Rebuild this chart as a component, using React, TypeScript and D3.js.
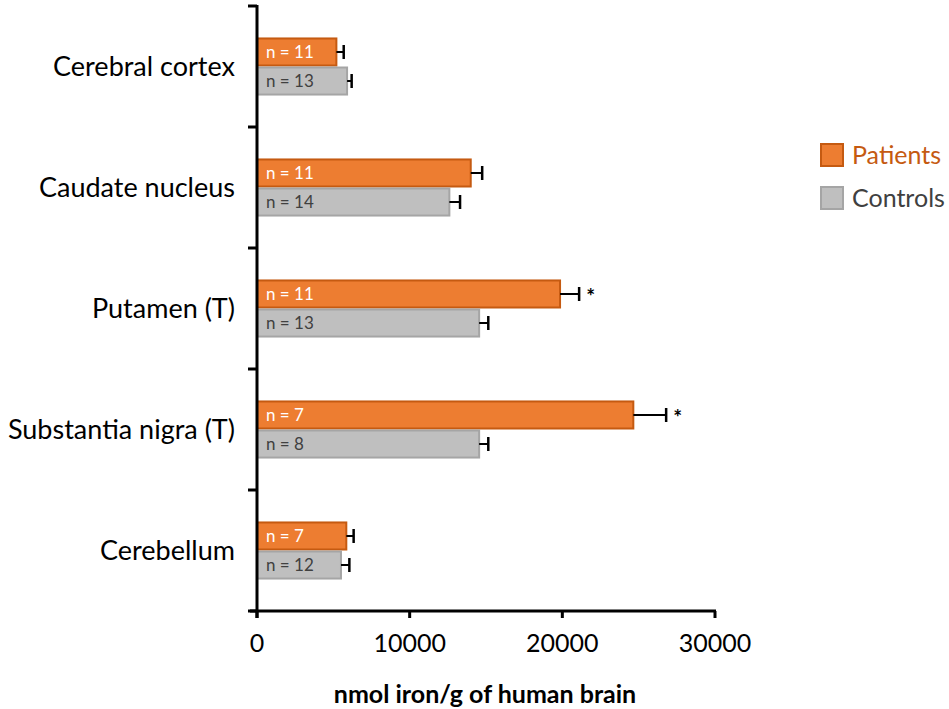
import React from "react";
import * as d3 from "d3";

const categories = ["Cerebral cortex", "Caudate nucleus", "Putamen (T)", "Substantia nigra (T)", "Cerebellum"];
const seriesNames = ["Patients", "Controls"];
const patientsValues = [5200, 14000, 19850, 24650, 5850];
const patientsErr = [480, 750, 1250, 2150, 480];
const controlsValues = [5900, 12600, 14550, 14550, 5500];
const controlsErr = [300, 700, 600, 600, 550];
const patientsN = [11, 11, 11, 7, 7];
const controlsN = [13, 14, 13, 8, 12];
const significant = [false, false, true, true, false];
const xTicks = [0, 10000, 20000, 30000];
const xTitle = "nmol iron/g of human brain";

const W = 949;
const H = 709;
const font = "Lato, 'Open Sans', sans-serif";

export default function App() {
  const x = d3.scaleLinear().domain([0, 30000]).range([257, 715]);
  const y0 = d3.scaleBand<string>().domain(categories).range([6, 611]).paddingInner(0.52).paddingOuter(0.26);
  const y1 = d3.scaleBand<string>().domain(seriesNames).range([0, y0.bandwidth()]);
  const step = y0.step();
  const bh = y1.bandwidth();

  const series = [
    { name: "Patients", values: patientsValues, err: patientsErr, ns: patientsN, fill: "#ED7D31", stroke: "#C55A11", text: "#FFFFFF" },
    { name: "Controls", values: controlsValues, err: controlsErr, ns: controlsN, fill: "#BFBFBF", stroke: "#A5A5A5", text: "#404040" },
  ];

  const yTickPos = d3.range(categories.length + 1).map((i) => 6 + i * step);

  return (
    <svg width={W} height={H} style={{ position: "absolute", left: 0, top: 0, background: "#fff" }}>
      {categories.map((c, ci) => (
        <g key={c}>
          {series.map((s) => {
            const yy = (y0(c) as number) + (y1(s.name) as number);
            const xEnd = x(s.values[ci]);
            const xErr = x(s.values[ci] + s.err[ci]);
            const cy = yy + bh / 2;
            return (
              <g key={s.name}>
                <rect x={x(0)} y={yy + 1} width={xEnd - x(0)} height={bh - 2} fill={s.fill} stroke={s.stroke} strokeWidth={2} />
                <line x1={xEnd} x2={xErr} y1={cy} y2={cy} stroke="#000" strokeWidth={2} />
                <line x1={xErr} x2={xErr} y1={cy - 7} y2={cy + 7} stroke="#000" strokeWidth={2.5} />
                <text x={x(0) + 9} y={cy} dy="0.36em" fontFamily={font} fontSize={17} fill={s.text}>
                  {`n = ${s.ns[ci]}`}
                </text>
                {s.name === "Patients" && significant[ci] && (
                  <text x={xErr + 7} y={cy + 10} fontFamily={font} fontSize={21} fontWeight="bold" fill="#000">
                    *
                  </text>
                )}
              </g>
            );
          })}
          <text x={235} y={(y0(c) as number) + y0.bandwidth() / 2} dy="0.36em" textAnchor="end" fontFamily={font} fontSize={27} fill="#000">
            {c}
          </text>
        </g>
      ))}

      <line x1={257} x2={257} y1={5} y2={618} stroke="#000" strokeWidth={3} />
      {yTickPos.map((p, i) => (
        <line key={i} x1={248} x2={257} y1={p} y2={p} stroke="#000" strokeWidth={3} />
      ))}

      <line x1={250} x2={716} y1={611} y2={611} stroke="#000" strokeWidth={3} />
      {xTicks.map((t) => (
        <g key={t}>
          <line x1={x(t)} x2={x(t)} y1={611} y2={618} stroke="#000" strokeWidth={3} />
          <text x={x(t)} y={643} dy="0.36em" textAnchor="middle" fontFamily={font} fontSize={25} fill="#000">
            {t}
          </text>
        </g>
      ))}
      <text x={485} y={694} dy="0.36em" textAnchor="middle" fontFamily={font} fontSize={25} fontWeight="bold" fill="#000">
        {xTitle}
      </text>

      {series.map((s, i) => (
        <g key={s.name} transform={`translate(820, ${143 + i * 43})`}>
          <rect x={1} y={1} width={22} height={22} fill={s.fill} stroke={s.stroke} strokeWidth={2} />
          <text x={32} y={12} dy="0.36em" fontFamily={font} fontSize={25} fill={s.name === "Patients" ? "#C55A11" : "#404040"}>
            {s.name}
          </text>
        </g>
      ))}
    </svg>
  );
}
